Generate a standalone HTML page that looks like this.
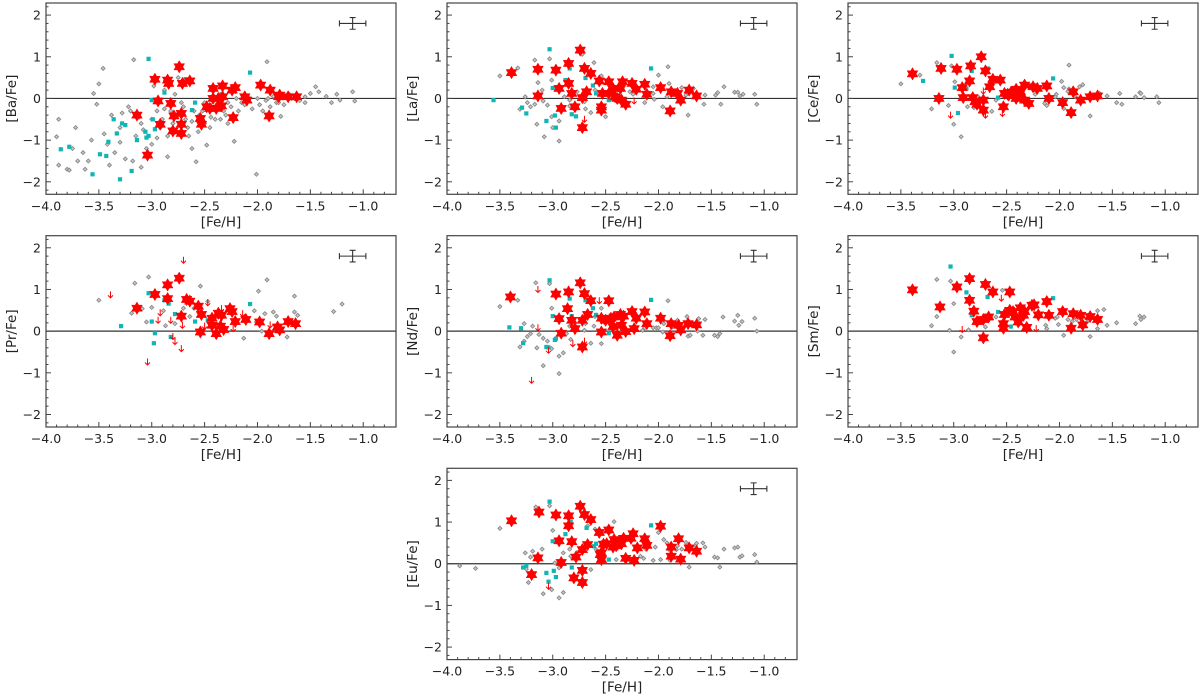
<!DOCTYPE html>
<html><head><meta charset="utf-8"><style>
html,body{margin:0;padding:0;background:#fff}
svg{display:block;font-family:"DejaVu Sans","Liberation Sans",sans-serif}
</style></head><body>
<svg id="fig" width="1200" height="699" viewBox="0 0 1200 699" xmlns="http://www.w3.org/2000/svg"></svg>
<script>
// ---------- DATA ----------
const baRed=[[-3.14,-0.4],[-2.97,0.46],[-2.85,0.44],[-2.84,0.36],[-2.94,-0.06],[-2.82,-0.12],[-2.74,0.76],[-2.71,0.36],[-2.64,0.42],[-3.04,-1.36],[-2.92,-0.62],[-2.79,-0.42],[-2.8,-0.78],[-2.72,-0.36],[-2.72,-0.62],[-2.72,-0.84],[-2.54,-0.48],[-2.53,-0.62],[-2.48,-0.2],[-2.42,0.24],[-2.42,0],[-2.39,-0.24],[-2.37,0],[-2.33,0.3],[-2.33,0.04],[-2.34,-0.18],[-2.23,-0.46],[-2.24,0.2],[-2.21,0.26],[-2.12,0.04],[-2.1,-0.04],[-1.97,0.32],[-1.88,0.2],[-1.89,-0.42],[-1.8,0.04],[-1.79,0.08],[-1.71,0.04],[-1.63,0.04],[-2.45,-0.24]];
const baLim=[];
const baCyan=[[-3.86,-1.22],[-3.78,-1.16],[-3.56,-1.82],[-3.49,-1.34],[-3.43,-1.38],[-3.41,-1.04],[-3.36,-0.5],[-3.33,-0.84],[-3.3,-1.94],[-3.28,-0.6],[-3.25,-0.64],[-3.19,-1.74],[-3.14,-1.0],[-3.06,-0.8],[-3.05,-0.94],[-3.03,-0.9],[-3.03,0.95],[-3.0,-0.04],[-2.99,-0.5],[-2.97,-0.74],[-2.88,0.14],[-2.68,0.46],[-2.62,-0.28],[-2.59,-0.1],[-2.07,0.62]];
const baGrey=[[-3.17,0.93],[-3.46,0.72],[-3.5,0.35],[-3.55,0.12],[-3.52,-0.14],[-1.91,0.88],[-2.01,-1.82],[-3.88,-0.5],[-3.9,-0.92],[-3.88,-1.6],[-3.8,-1.7],[-3.78,-1.72],[-3.72,-0.7],[-3.7,-1.5],[-3.63,-1.7],[-3.6,-1.5],[-3.57,-1.0],[-3.45,-0.85],[-3.4,-1.6],[-3.38,-0.4],[-3.35,-1.3],[-3.3,-1.05],[-3.3,-0.7],[-3.25,-1.45],[-3.2,-0.3],[-3.18,-1.5],[-3.15,-0.9],[-3.1,-1.65],[-3.1,-0.6],[-3.05,-1.2],[-3.0,-1.1],[-2.98,0.3],[-2.95,-0.3],[-2.9,-0.5],[-2.88,0.2],[-2.85,-0.9],[-2.85,-1.4],[-2.8,-0.6],[-2.78,0.1],[-2.75,0.5],[-2.7,-0.2],[-2.68,-0.5],[-2.65,-0.9],[-2.62,-1.2],[-2.6,-0.3],[-2.58,-1.52],[-2.55,-0.4],[-2.5,-0.1],[-2.5,-0.6],[-2.48,-1.12],[-2.45,-0.3],[-2.4,-0.5],[-2.35,0.1],[-2.3,-0.4],[-2.28,-0.6],[-2.25,-0.2],[-2.22,-1.03],[-2.2,0.0],[-2.15,-0.1],[-2.1,0.05],[-2.05,-0.25],[-2.0,0.0],[-1.98,-0.15],[-1.95,-0.3],[-1.92,-0.05],[-1.88,-0.2],[-1.85,0.05],[-1.82,-0.1],[-1.78,-0.43],[-1.75,-0.15],[-1.7,0.1],[-1.68,0.0],[-1.62,0.08],[-1.6,-0.05],[-1.55,0.04],[-1.5,0.12],[-1.45,0.28],[-1.42,0.16],[-1.3,-0.1],[-1.25,0.1],[-1.22,-0.04],[-1.1,0.16],[-1.08,-0.06],[-3.75,-1.2],[-3.65,-1.3],[-3.42,-1.1],[-3.22,-0.2],[-3.12,-0.45],[-3.08,-0.75],[-2.92,-0.7],[-2.82,-0.3],[-2.72,-0.1],[-2.66,-0.7],[-2.56,-0.8],[-2.52,-0.3],[-2.44,-0.45],[-2.38,-0.15],[-2.32,-0.3],[-2.18,-0.3],[-2.12,-0.15],[-2.08,0.02],[-1.9,0.0],[-1.8,-0.1],[-3.28,-0.35],[-3.0,-0.5],[-2.95,-0.95],[-2.88,-0.25],[-2.76,-0.4],[-2.62,-0.55],[-2.45,-0.7],[-2.35,-0.5],[-2.28,-0.1],[-1.65,0.0],[-1.55,-0.1],[-1.35,0.05]];

const laRed=[[-3.39,0.62],[-3.14,0.7],[-3.14,0.06],[-2.97,0.68],[-2.94,0.24],[-2.92,-0.24],[-2.85,0.84],[-2.85,0.36],[-2.82,0.12],[-2.79,-0.2],[-2.74,1.16],[-2.72,-0.7],[-2.72,0.02],[-2.7,0.72],[-2.68,0.16],[-2.64,0.6],[-2.56,0.42],[-2.54,-0.2],[-2.54,-0.28],[-2.53,0.12],[-2.47,0.4],[-2.47,0.12],[-2.43,0.24],[-2.41,0.04],[-2.36,0.24],[-2.34,0.4],[-2.31,-0.14],[-2.25,0.36],[-2.21,0.22],[-2.13,0.34],[-2.11,0.1],[-1.98,0.26],[-1.89,-0.3],[-1.88,0.16],[-1.82,0.12],[-1.79,-0.04],[-1.71,0.2],[-1.64,0.06],[-2.39,0.0],[-2.35,-0.04]];
const laLim=[[-2.7,-0.5],[-2.23,-0.06]];
const laCyan=[[-3.56,-0.04],[-3.29,-0.22],[-3.25,-0.36],[-3.06,-0.54],[-3.03,1.18],[-3.0,0.25],[-2.98,-0.41],[-2.97,-0.7],[-2.88,0.44],[-2.84,0.72],[-2.82,-0.38],[-2.78,-0.43],[-2.69,0.49],[-2.62,0.31],[-2.59,0.12],[-2.47,-0.04],[-2.07,0.72]];
const laGrey=[[-3.5,0.54],[-3.33,0.73],[-3.26,0.04],[-3.24,-0.1],[-3.21,-0.2],[-3.31,-0.26],[-3.17,0.92],[-3.15,-0.62],[-3.14,0.38],[-3.1,0.2],[-3.17,-0.14],[-3.09,-0.06],[-3.08,-0.92],[-3.05,-0.16],[-3.03,0.95],[-3.01,0.44],[-3.01,-0.44],[-3.0,-0.7],[-2.94,-1.02],[-2.94,-0.54],[-2.89,0.04],[-2.84,-0.04],[-2.84,-0.18],[-2.77,0.16],[-2.72,1.06],[-2.7,-0.08],[-2.69,-0.25],[-2.64,-0.34],[-2.61,0.86],[-2.6,0.2],[-2.54,0.54],[-2.5,-0.44],[-2.44,-0.02],[-2.24,0.1],[-2.13,-0.1],[-2.12,0.04],[-2.05,0.12],[-2.04,-0.02],[-2.0,0.56],[-1.96,-0.2],[-1.91,0.76],[-1.9,0.36],[-1.92,0.04],[-1.86,0.16],[-1.78,0.26],[-1.72,-0.4],[-1.74,0.08],[-1.67,0.24],[-1.57,-0.14],[-1.56,0.08],[-1.46,0.08],[-1.44,0.14],[-1.41,-0.14],[-1.38,0.28],[-1.28,0.15],[-1.25,0.15],[-1.23,0.06],[-1.2,0.1],[-1.09,0.1],[-1.07,-0.14],[-2.27,0.16],[-2.05,0.28]];

const ceRed=[[-3.39,0.59],[-3.12,0.72],[-3.14,0.0],[-2.97,0.7],[-2.92,0.26],[-2.91,0.02],[-2.84,0.78],[-2.85,0.42],[-2.82,0.02],[-2.8,-0.08],[-2.78,-0.14],[-2.74,1.0],[-2.72,-0.04],[-2.72,-0.28],[-2.7,0.66],[-2.66,0.28],[-2.63,0.46],[-2.56,0.44],[-2.53,-0.2],[-2.52,0.12],[-2.48,0.08],[-2.46,0.14],[-2.41,0.22],[-2.41,0.0],[-2.38,0.1],[-2.37,0.16],[-2.33,-0.04],[-2.33,0.32],[-2.29,-0.12],[-2.25,0.28],[-2.21,0.24],[-2.12,0.3],[-2.1,0.0],[-1.97,-0.1],[-1.89,-0.34],[-1.87,0.16],[-1.8,-0.04],[-1.71,0.04],[-1.64,0.06],[-2.49,0.1]];
const ceLim=[[-3.03,-0.4],[-2.72,0.18],[-2.7,-0.4],[-2.54,-0.36]];
const ceCyan=[[-3.29,0.42],[-3.02,1.02],[-2.99,0.26],[-2.96,-0.35],[-2.88,0.24],[-2.83,0.66],[-2.68,0.72],[-2.58,0.02],[-2.06,0.48]];
const ceGrey=[[-3.5,0.35],[-3.32,0.56],[-3.21,-0.25],[-3.16,0.86],[-3.05,-0.17],[-3.02,0.78],[-2.99,0.4],[-3.0,-0.62],[-2.93,-0.92],[-2.87,-0.2],[-2.81,-0.22],[-2.77,0.04],[-2.64,-0.31],[-2.6,-0.04],[-2.23,0.1],[-2.14,-0.12],[-2.12,-0.17],[-2.03,0.1],[-2.04,0.04],[-1.98,0.41],[-1.96,0.26],[-1.96,-0.24],[-1.92,0.17],[-1.91,0.8],[-1.91,0.23],[-1.85,0.04],[-1.81,0.28],[-1.78,0.33],[-1.71,-0.42],[-1.62,0.12],[-1.55,0.06],[-1.46,-0.1],[-1.43,0.12],[-1.41,-0.14],[-1.28,0.04],[-1.24,0.14],[-1.23,0.12],[-1.2,0.02],[-1.08,0.04],[-1.06,-0.1]];

const prRed=[[-3.14,0.55],[-2.97,0.88],[-2.85,1.11],[-2.85,0.78],[-2.74,1.27],[-2.72,0.36],[-2.67,0.76],[-2.64,0.72],[-2.56,0.6],[-2.54,-0.02],[-2.53,0.4],[-2.43,0.31],[-2.43,0.14],[-2.39,-0.06],[-2.37,0.43],[-2.34,0.38],[-2.35,0.12],[-2.32,0.04],[-2.26,0.54],[-2.24,0.47],[-2.21,0.23],[-2.11,0.28],[-1.98,0.22],[-1.89,-0.06],[-1.81,0.1],[-1.79,0.03],[-1.71,0.23],[-1.64,0.18]];
const prLim=[[-3.39,0.87],[-3.04,-0.74],[-2.94,0.26],[-2.92,0.44],[-2.82,0.26],[-2.8,-0.13],[-2.78,-0.25],[-2.72,-0.42],[-2.7,1.7],[-2.71,0.14],[-2.5,0.12],[-2.47,0.68],[-2.34,0.54],[-2.23,0.06],[-2.14,0.42],[-1.88,0.15]];
const prCyan=[[-3.29,0.12],[-3.03,0.91],[-3.0,0.23],[-2.97,-0.05],[-2.98,-0.29],[-2.88,0.74],[-2.84,0.66],[-2.82,-0.14],[-2.78,0.41],[-2.69,0.74],[-2.59,0.23],[-2.47,0.26],[-2.07,0.65]];
const prGrey=[[-3.5,0.74],[-3.19,0.43],[-3.16,1.15],[-3.09,0.54],[-3.05,0.22],[-3.03,1.3],[-3.0,0.57],[-2.89,0.49],[-2.87,0.13],[-2.78,0.18],[-2.7,0.55],[-2.64,0.35],[-2.6,0.55],[-2.54,1.08],[-2.47,0.71],[-2.13,-0.17],[-2.03,0.49],[-2.01,0.22],[-1.99,0.96],[-1.96,0.0],[-1.93,0.42],[-1.91,1.23],[-1.85,0.46],[-1.82,0.36],[-1.72,-0.14],[-1.65,0.84],[-1.65,0.46],[-1.62,0.38],[-1.28,0.47],[-1.2,0.65]];

const ndRed=[[-3.4,0.82],[-2.97,0.89],[-2.94,0.3],[-2.92,-0.05],[-2.85,0.94],[-2.86,0.54],[-2.82,0.26],[-2.79,0.06],[-2.74,1.16],[-2.72,-0.38],[-2.7,0.9],[-2.72,0.26],[-2.67,0.4],[-2.64,0.73],[-2.54,-0.02],[-2.54,0.31],[-2.47,0.73],[-2.5,0.26],[-2.45,0.31],[-2.43,0.11],[-2.42,0.34],[-2.39,-0.1],[-2.36,0.4],[-2.35,0.14],[-2.33,0.36],[-2.31,-0.01],[-2.25,0.47],[-2.23,0.06],[-2.21,0.31],[-2.13,0.46],[-2.11,0.18],[-1.98,0.31],[-1.89,-0.11],[-1.88,0.18],[-1.81,0.14],[-1.79,0.03],[-1.72,0.18],[-1.64,0.15]];
const ndLim=[[-3.14,1.0],[-3.14,0.08],[-3.2,-1.18],[-3.04,-0.46],[-2.81,-0.3],[-2.7,-0.24],[-2.56,0.73]];
const ndCyan=[[-3.41,0.09],[-3.3,0.07],[-3.28,-0.29],[-3.06,-0.38],[-3.04,-0.39],[-3.03,1.22],[-3.0,0.36],[-2.98,-0.21],[-2.97,-0.18],[-2.88,0.51],[-2.84,0.78],[-2.82,0.36],[-2.69,0.74],[-2.62,0.55],[-2.59,0.39],[-2.47,-0.05],[-2.07,0.75]];
const ndGrey=[[-3.5,0.59],[-3.33,0.74],[-3.31,-0.38],[-3.27,-0.24],[-3.27,0.18],[-3.24,-0.13],[-3.21,-0.06],[-3.19,0.12],[-3.16,1.16],[-3.15,-0.4],[-3.13,-0.08],[-3.09,-0.17],[-3.09,-0.83],[-3.05,-0.24],[-3.03,1.14],[-3.01,0.55],[-3.01,-0.42],[-2.94,-0.6],[-2.94,-1.02],[-2.9,-0.52],[-2.87,-0.06],[-2.84,0.12],[-2.83,-0.2],[-2.77,0.08],[-2.7,0.02],[-2.69,0.18],[-2.64,-0.29],[-2.61,0.12],[-2.6,0.35],[-2.54,-0.3],[-2.54,0.55],[-2.52,0.22],[-2.15,0.02],[-2.13,0.08],[-2.05,0.08],[-2.02,0.08],[-2.0,0.08],[-1.96,-0.02],[-1.95,0.18],[-1.91,0.73],[-1.87,0.1],[-1.82,0.26],[-1.72,-0.12],[-1.7,-0.1],[-1.73,0.35],[-1.63,0.0],[-1.62,0.3],[-1.58,-0.1],[-1.56,0.28],[-1.47,-0.1],[-1.44,-0.13],[-1.42,-0.06],[-1.39,0.34],[-1.28,0.24],[-1.25,0.38],[-1.24,0.14],[-1.21,0.23],[-1.09,0.31],[-1.07,0.0]];

const smRed=[[-3.39,0.99],[-3.13,0.58],[-2.97,1.06],[-2.85,1.26],[-2.85,0.74],[-2.81,0.48],[-2.78,0.23],[-2.72,-0.16],[-2.72,0.28],[-2.7,1.12],[-2.67,0.34],[-2.63,0.94],[-2.53,0.07],[-2.53,0.18],[-2.52,0.4],[-2.47,0.94],[-2.47,0.5],[-2.44,0.47],[-2.42,0.34],[-2.39,0.22],[-2.37,0.56],[-2.34,0.38],[-2.33,0.47],[-2.31,0.09],[-2.26,0.62],[-2.24,0.63],[-2.2,0.39],[-2.12,0.71],[-2.1,0.38],[-1.97,0.47],[-1.89,0.07],[-1.87,0.42],[-1.8,0.38],[-1.78,0.15],[-1.71,0.35],[-1.64,0.28]];
const smLim=[[-2.92,0.04],[-2.55,0.79],[-2.22,0.06]];
const smCyan=[[-3.03,1.55],[-2.88,0.93],[-2.83,0.38],[-2.68,0.82],[-2.58,0.46],[-2.46,0.11],[-2.06,0.79]];
const smGrey=[[-3.21,0.13],[-3.16,0.35],[-3.16,1.24],[-3.04,0.02],[-3.03,1.2],[-3.0,0.66],[-3.0,-0.5],[-2.93,-0.14],[-2.86,0.03],[-2.7,0.1],[-2.6,0.34],[-2.54,0.98],[-2.13,0.14],[-2.12,0.06],[-2.04,0.31],[-2.02,0.34],[-2.01,0.16],[-1.96,-0.1],[-1.92,0.28],[-1.88,0.23],[-1.84,0.28],[-1.74,0.22],[-1.71,-0.13],[-1.64,0.49],[-1.64,0.06],[-1.58,0.52],[-1.55,0.14],[-1.46,0.2],[-1.28,0.18],[-1.24,0.36],[-1.23,0.28],[-1.2,0.34]];

const euRed=[[-3.39,1.03],[-3.13,1.24],[-3.14,0.14],[-3.2,-0.26],[-2.97,1.17],[-2.94,0.55],[-2.92,0.03],[-2.85,1.15],[-2.85,0.91],[-2.82,0.53],[-2.8,-0.34],[-2.78,0.16],[-2.74,1.38],[-2.72,0.34],[-2.72,-0.16],[-2.72,-0.45],[-2.7,1.18],[-2.67,0.46],[-2.64,1.06],[-2.56,0.75],[-2.54,0.1],[-2.54,0.26],[-2.52,0.47],[-2.47,0.81],[-2.49,0.48],[-2.43,0.4],[-2.42,0.58],[-2.4,0.43],[-2.37,0.54],[-2.35,0.48],[-2.33,0.61],[-2.31,0.13],[-2.26,0.61],[-2.24,0.72],[-2.23,0.08],[-2.2,0.38],[-2.13,0.6],[-2.11,0.44],[-1.98,0.9],[-1.88,0.18],[-1.88,0.4],[-1.81,0.6],[-1.79,0.11],[-1.71,0.38],[-1.64,0.3],[-2.55,0.22]];
const euLim=[[-3.04,-0.54]];
const euCyan=[[-3.28,-0.09],[-3.25,-0.05],[-3.06,-0.22],[-3.04,-0.43],[-3.03,1.49],[-3.0,0.54],[-2.99,-0.17],[-2.97,-0.32],[-2.88,0.71],[-2.83,1.01],[-2.82,-0.09],[-2.68,0.86],[-2.61,0.42],[-2.59,0.48],[-2.47,0.1],[-2.07,0.92]];
const euGrey=[[-3.88,-0.05],[-3.73,-0.11],[-3.5,0.85],[-3.26,0.26],[-3.21,0.16],[-3.19,0.3],[-3.25,-0.13],[-3.23,-0.45],[-3.1,0.35],[-3.09,-0.72],[-3.16,1.36],[-3.03,1.39],[-3.0,0.8],[-3.01,-0.62],[-2.98,0.02],[-2.94,-0.1],[-2.94,-0.82],[-2.9,0.26],[-2.9,-0.69],[-2.84,0.35],[-2.83,0.18],[-2.77,0.27],[-2.73,-0.13],[-2.67,0.91],[-2.64,-0.14],[-2.6,0.83],[-2.59,0.34],[-2.53,0.51],[-2.42,1.01],[-2.4,0.1],[-2.17,0.18],[-2.14,0.13],[-2.12,0.35],[-2.05,0.08],[-2.03,0.4],[-2.0,0.75],[-1.98,0.1],[-1.95,0.58],[-1.92,0.5],[-1.9,0.34],[-1.89,0.08],[-1.83,0.34],[-1.82,0.43],[-1.78,0.35],[-1.74,0.51],[-1.71,-0.08],[-1.65,0.43],[-1.64,0.49],[-1.58,0.5],[-1.56,0.4],[-1.47,0.16],[-1.44,0.14],[-1.42,-0.08],[-1.38,0.35],[-1.28,0.38],[-1.25,0.4],[-1.23,0.16],[-1.21,0.19],[-1.09,0.22],[-1.07,0.04]];

const panelLabels=["[Ba/Fe]","[La/Fe]","[Ce/Fe]","[Pr/Fe]","[Nd/Fe]","[Sm/Fe]","[Eu/Fe]"];
const xTickLabels=["−4.0","−3.5","−3.0","−2.5","−2.0","−1.5","−1.0"];
const xTickVals=[-4,-3.5,-3,-2.5,-2,-1.5,-1];
const yTickLabels=["−2","−1","0","1","2"];
const yTickVals=[-2,-1,0,1,2];
const errPoint=[-1.1,1.8], errX=[0.125], errY=[0.14];

// ---------- LAYOUT ----------
const NS="http://www.w3.org/2000/svg";
const svg=document.getElementById('fig');
const W=350,H=191.3,X0=-4,X1=-0.69,Y0=-2.3,Y1=2.29;
const panels=[
 {name:'ba',L:46,T:3,red:baRed,lim:baLim,cyan:baCyan,grey:baGrey},
 {name:'la',L:447,T:3,red:laRed,lim:laLim,cyan:laCyan,grey:laGrey},
 {name:'ce',L:848,T:3,red:ceRed,lim:ceLim,cyan:ceCyan,grey:ceGrey},
 {name:'pr',L:46,T:235.7,red:prRed,lim:prLim,cyan:prCyan,grey:prGrey},
 {name:'nd',L:447,T:235.7,red:ndRed,lim:ndLim,cyan:ndCyan,grey:ndGrey},
 {name:'sm',L:848,T:235.7,red:smRed,lim:smLim,cyan:smCyan,grey:smGrey},
 {name:'eu',L:447,T:468.3,red:euRed,lim:euLim,cyan:euCyan,grey:euGrey}];
function mk(tag,attrs,parent){const e=document.createElementNS(NS,tag);for(const k in attrs)e.setAttribute(k,attrs[k]);parent.appendChild(e);return e;}
function star(cx,cy,r){
 const a=[],b=[];
 for(let i=0;i<3;i++){const t1=-Math.PI/2+i*2*Math.PI/3,t2=Math.PI/2+i*2*Math.PI/3;
  a.push((cx+r*Math.cos(t1)).toFixed(2)+','+(cy+r*Math.sin(t1)).toFixed(2));
  b.push((cx+r*Math.cos(t2)).toFixed(2)+','+(cy+r*Math.sin(t2)).toFixed(2));}
 return 'M'+a.join('L')+'Z M'+b.join('L')+'Z';
}
panels.forEach((p,pi)=>{
 const sx=v=>p.L+(v-X0)/(X1-X0)*W;
 const sy=v=>p.T+(Y1-v)/(Y1-Y0)*H;
 const g=mk('g',{},svg);
 
 
 const zl=mk('line',{x1:p.L,x2:p.L+W,y1:sy(0),y2:sy(0),stroke:'#333','stroke-width':1.2},g);
 
 
 p.grey.forEach(d=>{const x=sx(d[0]),y=sy(d[1]);
  const e=mk('path',{d:`M${x},${y-2}L${x+2},${y}L${x},${y+2}L${x-2},${y}Z`,fill:'#c8c8c8',stroke:'#8a8a8a','stroke-width':0.9},g);
  
  });
 p.cyan.forEach(d=>{const x=sx(d[0]),y=sy(d[1]);
  const e=mk('rect',{x:x-2.1,y:y-2.1,width:4.2,height:4.2,fill:'#10b5b5'},g);
  
  });
 p.lim.forEach(d=>{const x=sx(d[0]),y=sy(d[1]);
  const e=mk('path',{d:`M${x},${y-3.5}L${x},${y+3}M${x-2.5},${y+0.5}L${x},${y+3}L${x+2.5},${y+0.5}`,stroke:'#f00','stroke-width':1,fill:'none'},g);
  
  });
 p.red.forEach(d=>{const x=sx(d[0]),y=sy(d[1]);
  const e=mk('path',{d:star(x,y,6.2),fill:'#f00',stroke:'#f00','stroke-width':0.5},g);
  
  });
 const ex=sx(errPoint[0]),ey=sy(errPoint[1]),ex1=sx(errPoint[0]-errX[0]),ex2=sx(errPoint[0]+errX[0]),ey1=sy(errPoint[1]+errY[0]),ey2=sy(errPoint[1]-errY[0]);
 const eb=mk('path',{d:`M${ex1},${ey}L${ex2},${ey}M${ex},${ey1}L${ex},${ey2}M${ex1},${ey-3}L${ex1},${ey+3}M${ex2},${ey-3}L${ex2},${ey+3}M${ex-3},${ey1}L${ex+3},${ey1}M${ex-3},${ey2}L${ex+3},${ey2}`,stroke:'#333','stroke-width':1.1,fill:'none'},g);
 
 
 const fr=mk('rect',{x:p.L,y:p.T,width:W,height:H,fill:'none',stroke:'#444','stroke-width':1.2},g);
 
 
 for(let v=-4;v<=-0.7;v+=0.1){const vv=Math.round(v*10)/10;const major=Math.abs(vv*2-Math.round(vv*2))<1e-6;
  mk('line',{x1:sx(vv),x2:sx(vv),y1:p.T+H,y2:p.T+H-(major?5:2.5),stroke:'#444','stroke-width':1},g);}
 xTickVals.forEach((v,i)=>{const t=mk('text',{x:sx(v),y:p.T+H+16,'text-anchor':'middle','font-size':12.5,fill:'#222'},g);t.textContent=xTickLabels[i];
  
  });
 for(let v=-2.2;v<=2.21;v+=0.2){const vv=Math.round(v*10)/10;const major=Math.abs(vv-Math.round(vv))<1e-6;
  mk('line',{x1:p.L,x2:p.L+(major?5:2.5),y1:sy(vv),y2:sy(vv),stroke:'#444','stroke-width':1},g);}
 yTickVals.forEach((v,i)=>{const t=mk('text',{x:p.L-5,y:sy(v)+4.5,'text-anchor':'end','font-size':12.5,fill:'#222'},g);t.textContent=yTickLabels[i];
  
  });
 const xl=mk('text',{x:p.L+W/2,y:p.T+H+32,'text-anchor':'middle','font-size':13.5,fill:'#222'},g);xl.textContent='[Fe/H]';
 
 
 const yx=p.L-30,yy=p.T+H/2;
 const yl=mk('text',{x:yx,y:yy,'text-anchor':'middle','font-size':13.5,fill:'#222',transform:`rotate(-90 ${yx} ${yy})`},g);yl.textContent=panelLabels[pi];
 
 
});
</script>
</body></html>
